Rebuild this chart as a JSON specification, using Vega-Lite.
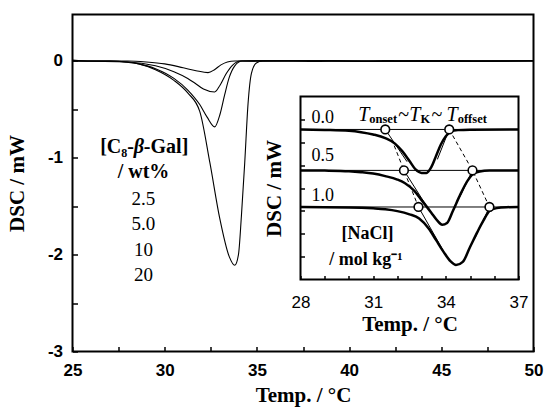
{
  "$schema": "https://vega.github.io/schema/vega-lite/v6.json",
  "width": 461,
  "height": 337,
  "autosize": {"type": "none"},
  "padding": {"left": 72.5, "top": 14.5, "right": 11.5, "bottom": 55.5},
  "background": "white",
  "config": {"view": {"stroke": "black", "strokeWidth": 2}},
  "resolve": {"scale": {"x": "independent", "y": "independent"}, "axis": {"x": "independent", "y": "independent"}},
  "layer": [
    {
      "layer": [
        {
          "data": {"values": [
            {"c":"2.5","x":25,"y":0},{"c":"2.5","x":28,"y":0},{"c":"2.5","x":29,"y":-0.01},{"c":"2.5","x":30,"y":-0.03},{"c":"2.5","x":31,"y":-0.07},{"c":"2.5","x":31.7,"y":-0.1},{"c":"2.5","x":32.35,"y":-0.12},{"c":"2.5","x":32.7,"y":-0.09},{"c":"2.5","x":33.05,"y":-0.04},{"c":"2.5","x":33.4,"y":-0.01},{"c":"2.5","x":33.8,"y":0},{"c":"2.5","x":39,"y":0.005},{"c":"2.5","x":43,"y":-0.005},{"c":"2.5","x":50,"y":0},
            {"c":"5.0","x":25,"y":0},{"c":"5.0","x":28,"y":-0.01},{"c":"5.0","x":29.5,"y":-0.05},{"c":"5.0","x":30.5,"y":-0.11},{"c":"5.0","x":31.25,"y":-0.18},{"c":"5.0","x":31.65,"y":-0.23},{"c":"5.0","x":32.1,"y":-0.29},{"c":"5.0","x":32.71,"y":-0.32},{"c":"5.0","x":33.0,"y":-0.25},{"c":"5.0","x":33.34,"y":-0.13},{"c":"5.0","x":33.7,"y":-0.04},{"c":"5.0","x":34.1,"y":0},{"c":"5.0","x":37,"y":0.005},{"c":"5.0","x":41,"y":-0.005},{"c":"5.0","x":45,"y":0.005},{"c":"5.0","x":50,"y":0},
            {"c":"10","x":25,"y":0},{"c":"10","x":27,"y":0},{"c":"10","x":28,"y":-0.01},{"c":"10","x":28.6,"y":-0.03},{"c":"10","x":29.5,"y":-0.08},{"c":"10","x":30.5,"y":-0.18},{"c":"10","x":31.25,"y":-0.3},{"c":"10","x":31.9,"y":-0.45},{"c":"10","x":32.3,"y":-0.58},{"c":"10","x":32.71,"y":-0.68},{"c":"10","x":33.0,"y":-0.55},{"c":"10","x":33.25,"y":-0.35},{"c":"10","x":33.5,"y":-0.17},{"c":"10","x":33.8,"y":-0.05},{"c":"10","x":34.2,"y":0},{"c":"10","x":38,"y":-0.005},{"c":"10","x":42,"y":0.005},{"c":"10","x":46,"y":0},{"c":"10","x":50,"y":0.005},
            {"c":"20","x":25,"y":0.01},{"c":"20","x":26,"y":0},{"c":"20","x":27,"y":0},{"c":"20","x":27.8,"y":-0.01},{"c":"20","x":28.6,"y":-0.03},{"c":"20","x":29.5,"y":-0.09},{"c":"20","x":30.5,"y":-0.2},{"c":"20","x":31.25,"y":-0.33},{"c":"20","x":31.9,"y":-0.52},{"c":"20","x":32.45,"y":-1.05},{"c":"20","x":32.98,"y":-1.62},{"c":"20","x":33.5,"y":-2.02},{"c":"20","x":33.8,"y":-2.11},{"c":"20","x":34.0,"y":-2.0},{"c":"20","x":34.16,"y":-1.6},{"c":"20","x":34.34,"y":-1.05},{"c":"20","x":34.52,"y":-0.44},{"c":"20","x":34.7,"y":-0.13},{"c":"20","x":34.97,"y":-0.02},{"c":"20","x":35.3,"y":0},{"c":"20","x":38,"y":0.005},{"c":"20","x":41,"y":-0.005},{"c":"20","x":44,"y":0.005},{"c":"20","x":47,"y":-0.005},{"c":"20","x":50,"y":0}
          ]},
          "mark": {"type": "line", "interpolate": "monotone", "color": "black"},
          "encoding": {
            "x": {"field": "x", "type": "quantitative", "scale": {"domain": [25, 50], "nice": false, "zero": false},
              "axis": {"title": "Temp. / °C", "values": [25,27.5,30,32.5,35,37.5,40,42.5,45,47.5,50], "labelExpr": "datum.value % 5 == 0 ? '' + datum.value : ''",
                "tickSize": -5, "tickWidth": 1.5, "tickColor": "black", "labelPadding": 16, "labelFlush": false, "labelOverlap": false, "domain": false, "grid": false, "zindex": 1,
                "labelFont": "Liberation Sans", "labelFontWeight": "bold", "labelFontSize": 17, "labelColor": "black",
                "titleFont": "Liberation Serif", "titleFontSize": 21, "titleFontWeight": "bold", "titleColor": "black", "titlePadding": 6}},
            "y": {"field": "y", "type": "quantitative", "scale": {"domain": [-3, 0.48], "nice": false, "zero": false},
              "axis": {"title": "DSC / mW", "values": [-3,-2.5,-2,-1.5,-1,-0.5,0], "labelExpr": "datum.value % 1 == 0 ? '' + datum.value : ''",
                "tickSize": -5, "tickWidth": 1.5, "tickColor": "black", "labelPadding": 15, "labelFlush": false, "labelOverlap": false, "domain": false, "grid": false, "zindex": 1,
                "labelFont": "Liberation Sans", "labelFontWeight": "bold", "labelFontSize": 17, "labelColor": "black",
                "titleFont": "Liberation Serif", "titleFontSize": 21, "titleFontWeight": "bold", "titleColor": "black", "titlePadding": 20}},
            "detail": {"field": "c"},
            "strokeWidth": {"field": "c", "type": "ordinal", "scale": {"domain": ["2.5","5.0","10","20"], "range": [1.1, 1.1, 1.1, 2.6]}, "legend": null}
          }
        },
        {
          "data": {"values": [{"x": 28.33, "y": -0.95, "t": "[C₈-"}]},
          "mark": {"type": "text", "font": "Liberation Serif", "fontWeight": "bold", "fontSize": 20, "align": "right", "baseline": "alphabetic", "color": "black"},
          "encoding": {"x": {"field": "x", "type": "quantitative"}, "y": {"field": "y", "type": "quantitative"}, "text": {"field": "t"}}
        },
        {
          "data": {"values": [{"x": 28.6, "y": -0.95, "t": "β"}]},
          "mark": {"type": "text", "font": "Liberation Serif", "fontWeight": "bold", "fontStyle": "italic", "fontSize": 20, "align": "center", "baseline": "alphabetic", "color": "black"},
          "encoding": {"x": {"field": "x", "type": "quantitative"}, "y": {"field": "y", "type": "quantitative"}, "text": {"field": "t"}}
        },
        {
          "data": {"values": [{"x": 28.87, "y": -0.95, "t": "-Gal]"}]},
          "mark": {"type": "text", "font": "Liberation Serif", "fontWeight": "bold", "fontSize": 20, "align": "left", "baseline": "alphabetic", "color": "black"},
          "encoding": {"x": {"field": "x", "type": "quantitative"}, "y": {"field": "y", "type": "quantitative"}, "text": {"field": "t"}}
        },
        {
          "data": {"values": [{"x": 28.85, "y": -1.206, "t": "/ wt%"}]},
          "mark": {"type": "text", "font": "Liberation Serif", "fontWeight": "bold", "fontSize": 20, "align": "center", "baseline": "alphabetic", "color": "black"},
          "encoding": {"x": {"field": "x", "type": "quantitative"}, "y": {"field": "y", "type": "quantitative"}, "text": {"field": "t"}}
        },
        {
          "data": {"values": [{"x": 28.85, "y": -1.485, "t": "2.5"}, {"x": 28.85, "y": -1.742, "t": "5.0"}, {"x": 28.85, "y": -2.01, "t": "10"}, {"x": 28.85, "y": -2.27, "t": "20"}]},
          "mark": {"type": "text", "font": "Liberation Serif", "fontSize": 19, "align": "center", "baseline": "alphabetic", "color": "black"},
          "encoding": {"x": {"field": "x", "type": "quantitative"}, "y": {"field": "y", "type": "quantitative"}, "text": {"field": "t"}}
        }
      ]
    },
    {
      "layer": [
        {
          "data": {"values": [{"ix": 28, "ix2": 37, "iy": -8, "iy2": 0}]},
          "mark": {"type": "rect", "fill": "white", "stroke": "black", "strokeWidth": 2},
          "encoding": {
            "x": {"field": "ix", "type": "quantitative", "scale": {"domain": [28, 37], "range": [228, 446], "nice": false, "zero": false},
              "axis": {"orient": "bottom", "offset": -72, "title": "Temp. / °C", "values": [28,29,30,31,32,33,34,35,36,37], "labelExpr": "(datum.value - 28) % 3 == 0 ? '' + datum.value : ''",
                "tickSize": -4, "tickWidth": 1.5, "tickColor": "black", "labelPadding": 19, "labelFlush": false, "labelOverlap": false, "domain": false, "grid": false, "zindex": 1,
                "labelFont": "Liberation Sans", "labelFontSize": 17, "labelColor": "black",
                "titleFont": "Liberation Serif", "titleFontSize": 21, "titleFontWeight": "bold", "titleColor": "black", "titlePadding": 3}},
            "x2": {"field": "ix2"},
            "y": {"field": "iy", "type": "quantitative", "scale": {"domain": [-8, 0], "range": [265, 82], "nice": false, "zero": false},
              "axis": {"orient": "left", "offset": -228, "title": "DSC / mW", "values": [-7,-6,-5,-4,-3,-2,-1], "labels": false,
                "tickSize": -4, "tickWidth": 1.5, "tickColor": "black", "domain": false, "grid": false, "zindex": 1,
                "titleFont": "Liberation Serif", "titleFontSize": 21, "titleFontWeight": "bold", "titleColor": "black", "titlePadding": 15}},
            "y2": {"field": "iy2"}
          }
        },
        {
          "data": {"values": [{"ix": 28, "ix2": 37, "iy": -1.44}, {"ix": 28, "ix2": 37, "iy": -3.23}, {"ix": 28, "ix2": 37, "iy": -4.83}]},
          "mark": {"type": "rule", "color": "black", "strokeWidth": 1},
          "encoding": {"x": {"field": "ix", "type": "quantitative"}, "x2": {"field": "ix2"}, "y": {"field": "iy", "type": "quantitative"}}
        },
        {
          "data": {"values": [
            {"g":"t0on","ix":31.5,"iy":-1.44},{"g":"t0on","ix":32.4,"iy":-2.85},
            {"g":"t0off","ix":33.65,"iy":-2.75},{"g":"t0off","ix":34.14,"iy":-1.44},
            {"g":"t5on","ix":32.27,"iy":-3.23},{"g":"t5on","ix":33.3,"iy":-4.95},
            {"g":"t5off","ix":34.55,"iy":-4.45},{"g":"t5off","ix":35.1,"iy":-3.23},
            {"g":"t10on","ix":32.87,"iy":-4.83},{"g":"t10on","ix":33.9,"iy":-6.75},
            {"g":"t10off","ix":35.2,"iy":-6.2},{"g":"t10off","ix":35.8,"iy":-4.83}
          ]},
          "mark": {"type": "line", "color": "black", "strokeWidth": 1},
          "encoding": {"x": {"field": "ix", "type": "quantitative"}, "y": {"field": "iy", "type": "quantitative"}, "detail": {"field": "g"}}
        },
        {
          "data": {"values": [
            {"g":"on","ix":31.87,"iy":-2.15},{"g":"on","ix":32.27,"iy":-3.23},{"g":"on","ix":32.87,"iy":-4.83},
            {"g":"off","ix":34.14,"iy":-1.44},{"g":"off","ix":35.1,"iy":-3.23},{"g":"off","ix":35.8,"iy":-4.83}
          ]},
          "mark": {"type": "line", "color": "black", "strokeWidth": 1, "strokeDash": [4, 3]},
          "encoding": {"x": {"field": "ix", "type": "quantitative"}, "y": {"field": "iy", "type": "quantitative"}, "detail": {"field": "g"}}
        },
        {
          "data": {"values": [
            {"c":"0.0","ix":28,"iy":-1.44},{"c":"0.0","ix":29,"iy":-1.46},{"c":"0.0","ix":30,"iy":-1.5},{"c":"0.0","ix":30.5,"iy":-1.56},{"c":"0.0","ix":31,"iy":-1.66},{"c":"0.0","ix":31.5,"iy":-1.82},{"c":"0.0","ix":31.9,"iy":-2.06},{"c":"0.0","ix":32.2,"iy":-2.39},{"c":"0.0","ix":32.5,"iy":-2.82},{"c":"0.0","ix":32.75,"iy":-3.19},{"c":"0.0","ix":33.0,"iy":-3.34},{"c":"0.0","ix":33.2,"iy":-3.34},{"c":"0.0","ix":33.4,"iy":-3.09},{"c":"0.0","ix":33.6,"iy":-2.59},{"c":"0.0","ix":33.8,"iy":-2.09},{"c":"0.0","ix":34.0,"iy":-1.74},{"c":"0.0","ix":34.2,"iy":-1.54},{"c":"0.0","ix":34.5,"iy":-1.47},{"c":"0.0","ix":35,"iy":-1.45},{"c":"0.0","ix":37,"iy":-1.44},
            {"c":"0.5","ix":28,"iy":-3.23},{"c":"0.5","ix":29,"iy":-3.24},{"c":"0.5","ix":30,"iy":-3.27},{"c":"0.5","ix":30.5,"iy":-3.31},{"c":"0.5","ix":31,"iy":-3.37},{"c":"0.5","ix":31.5,"iy":-3.48},{"c":"0.5","ix":32,"iy":-3.63},{"c":"0.5","ix":32.3,"iy":-3.78},{"c":"0.5","ix":32.7,"iy":-4.13},{"c":"0.5","ix":33.0,"iy":-4.53},{"c":"0.5","ix":33.4,"iy":-5.08},{"c":"0.5","ix":33.65,"iy":-5.43},{"c":"0.5","ix":33.85,"iy":-5.61},{"c":"0.5","ix":34.05,"iy":-5.53},{"c":"0.5","ix":34.3,"iy":-4.98},{"c":"0.5","ix":34.6,"iy":-4.28},{"c":"0.5","ix":34.9,"iy":-3.68},{"c":"0.5","ix":35.1,"iy":-3.41},{"c":"0.5","ix":35.4,"iy":-3.28},{"c":"0.5","ix":35.8,"iy":-3.24},{"c":"0.5","ix":37,"iy":-3.23},
            {"c":"1.0","ix":28,"iy":-4.83},{"c":"1.0","ix":30,"iy":-4.85},{"c":"1.0","ix":31,"iy":-4.89},{"c":"1.0","ix":31.5,"iy":-4.93},{"c":"1.0","ix":32,"iy":-5.01},{"c":"1.0","ix":32.5,"iy":-5.15},{"c":"1.0","ix":32.9,"iy":-5.33},{"c":"1.0","ix":33.3,"iy":-5.78},{"c":"1.0","ix":33.6,"iy":-6.28},{"c":"1.0","ix":33.9,"iy":-6.78},{"c":"1.0","ix":34.2,"iy":-7.21},{"c":"1.0","ix":34.42,"iy":-7.37},{"c":"1.0","ix":34.7,"iy":-7.23},{"c":"1.0","ix":35.0,"iy":-6.58},{"c":"1.0","ix":35.3,"iy":-5.93},{"c":"1.0","ix":35.55,"iy":-5.43},{"c":"1.0","ix":35.8,"iy":-5.01},{"c":"1.0","ix":36.1,"iy":-4.88},{"c":"1.0","ix":36.5,"iy":-4.84},{"c":"1.0","ix":37,"iy":-4.83}
          ]},
          "mark": {"type": "line", "interpolate": "monotone", "color": "black", "strokeWidth": 2.5},
          "encoding": {"x": {"field": "ix", "type": "quantitative"}, "y": {"field": "iy", "type": "quantitative"}, "detail": {"field": "c"}}
        },
        {
          "data": {"values": [{"ix":31.5,"iy":-1.44},{"ix":34.14,"iy":-1.44},{"ix":32.27,"iy":-3.23},{"ix":35.1,"iy":-3.23},{"ix":32.87,"iy":-4.83},{"ix":35.8,"iy":-4.83}]},
          "mark": {"type": "point", "shape": "circle", "filled": true, "fill": "white", "stroke": "black", "strokeWidth": 1.6, "size": 75, "opacity": 1},
          "encoding": {"x": {"field": "ix", "type": "quantitative"}, "y": {"field": "iy", "type": "quantitative"}}
        },
        {
          "data": {"values": [{"ix": 28.45, "iy": -1.15, "t": "0.0"}, {"ix": 28.45, "iy": -2.84, "t": "0.5"}, {"ix": 28.45, "iy": -4.57, "t": "1.0"}]},
          "mark": {"type": "text", "font": "Liberation Serif", "fontSize": 18, "align": "left", "baseline": "alphabetic", "color": "black"},
          "encoding": {"x": {"field": "ix", "type": "quantitative"}, "y": {"field": "iy", "type": "quantitative"}, "text": {"field": "t"}}
        },
        {
          "data": {"values": [{"ix": 30.77, "iy": -6.24, "t": "[NaCl]"}, {"ix": 30.7, "iy": -7.38, "t": "/ mol kg⁻¹"}]},
          "mark": {"type": "text", "font": "Liberation Serif", "fontSize": 18, "fontWeight": "bold", "align": "center", "baseline": "alphabetic", "color": "black"},
          "encoding": {"x": {"field": "ix", "type": "quantitative"}, "y": {"field": "iy", "type": "quantitative"}, "text": {"field": "t"}}
        },
        {
          "data": {"values": [{"ix": 30.38, "iy": -1.08, "t": "T"}, {"ix": 32.49, "iy": -1.08, "t": "T"}, {"ix": 34.03, "iy": -1.08, "t": "T"}]},
          "mark": {"type": "text", "font": "Liberation Serif", "fontSize": 20, "fontStyle": "italic", "align": "left", "baseline": "alphabetic", "color": "black"},
          "encoding": {"x": {"field": "ix", "type": "quantitative"}, "y": {"field": "iy", "type": "quantitative"}, "text": {"field": "t"}}
        },
        {
          "data": {"values": [{"ix": 30.84, "iy": -1.17, "t": "onset"}, {"ix": 32.95, "iy": -1.17, "t": "K"}, {"ix": 34.49, "iy": -1.17, "t": "offset"}]},
          "mark": {"type": "text", "font": "Liberation Serif", "fontSize": 12.5, "fontWeight": "bold", "align": "left", "baseline": "alphabetic", "color": "black"},
          "encoding": {"x": {"field": "ix", "type": "quantitative"}, "y": {"field": "iy", "type": "quantitative"}, "text": {"field": "t"}}
        },
        {
          "data": {"values": [{"ix": 32.04, "iy": -1.08, "t": "~"}, {"ix": 33.41, "iy": -1.08, "t": "~"}]},
          "mark": {"type": "text", "font": "Liberation Serif", "fontSize": 20, "align": "left", "baseline": "alphabetic", "color": "black"},
          "encoding": {"x": {"field": "ix", "type": "quantitative"}, "y": {"field": "iy", "type": "quantitative"}, "text": {"field": "t"}}
        }
      ]
    }
  ]
}
